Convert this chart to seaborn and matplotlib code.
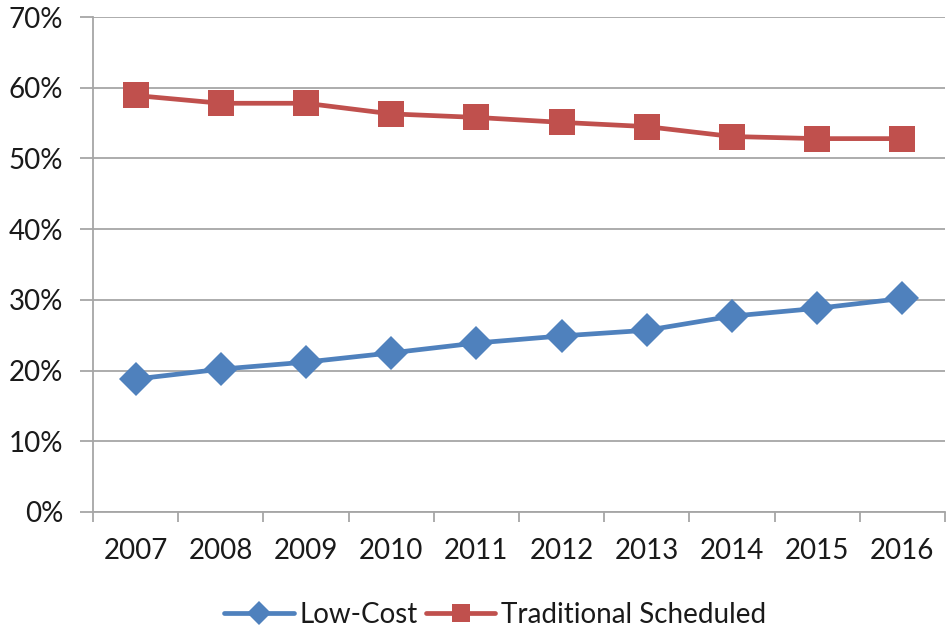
import matplotlib
matplotlib.use("Agg")
import matplotlib.pyplot as plt
import seaborn as sns
import pandas as pd
from matplotlib.ticker import FixedLocator, FuncFormatter

years = ["2007", "2008", "2009", "2010", "2011", "2012", "2013", "2014", "2015", "2016"]
low_cost = [18.8, 20.2, 21.2, 22.5, 23.9, 24.9, 25.7, 27.7, 28.8, 30.2]
traditional = [58.9, 57.8, 57.8, 56.3, 55.8, 55.1, 54.5, 53.1, 52.8, 52.8]
series_names = ["Low-Cost", "Traditional Scheduled"]
y_ticks = [0, 10, 20, 30, 40, 50, 60, 70]

sns.set_theme(style="white")
plt.rcParams["font.family"] = ["Lato", "DejaVu Sans"]

df = pd.DataFrame({
    "pos": list(range(len(years))) * 2,
    "value": low_cost + traditional,
    "series": [series_names[0]] * len(years) + [series_names[1]] * len(years),
})

fig = plt.figure(figsize=(9.47, 6.31), dpi=100)
ax = fig.add_axes([93 / 947, 1 - 512 / 631, (945 - 93) / 947, (512 - 17) / 631])

palette = {series_names[0]: "#4F81BD", series_names[1]: "#C0504D"}
sns.lineplot(data=df, x="pos", y="value", hue="series", style="series",
             palette=palette, markers={series_names[0]: "D", series_names[1]: "s"},
             dashes=False, linewidth=3.4, markeredgewidth=0, ax=ax)
for line in ax.lines:
    if line.get_marker() == "s":
        line.set_markersize(18.5)
    else:
        line.set_markersize(17)

ax.set_xlim(-0.5, len(years) - 0.5)
ax.set_ylim(0, 70)
ax.yaxis.set_major_locator(FixedLocator(y_ticks))
ax.yaxis.set_major_formatter(FuncFormatter(lambda v, p: f"{int(v)}%"))
ax.grid(axis="y", color="#A6A6A6", linewidth=1.3)
ax.set_axisbelow(True)

# category labels sit between tick marks
ax.set_xticks([i - 0.5 for i in range(len(years) + 1)])
ax.set_xticklabels([])
ax.set_xticks(range(len(years)), minor=True)
ax.set_xticklabels(years, minor=True)
ax.tick_params(axis="x", which="major", length=7, width=1.3, color="#A6A6A6", direction="out", bottom=True)
ax.tick_params(axis="x", which="minor", length=0, pad=19, labelsize=20, labelcolor="#1a1a1a")
ax.tick_params(axis="y", length=9.5, width=1.3, color="#A6A6A6", direction="out", left=True,
               labelsize=20, labelcolor="#1a1a1a", pad=12)

for s in ["top", "right"]:
    ax.spines[s].set_visible(False)
for s in ["left", "bottom"]:
    ax.spines[s].set_color("#A6A6A6")
    ax.spines[s].set_linewidth(1.3)

ax.set_xlabel("")
ax.set_ylabel("")

handles, labels = ax.get_legend_handles_labels()
leg = ax.legend(handles=handles, labels=labels, loc="lower center", bbox_to_anchor=(0.472, -0.285),
                ncol=2, frameon=False, fontsize=20, handlelength=2.5, handletextpad=0.2,
                columnspacing=0.3, markerscale=0.72)
for t in leg.get_texts():
    t.set_color("#1a1a1a")

fig.savefig("out.png", dpi=100)
